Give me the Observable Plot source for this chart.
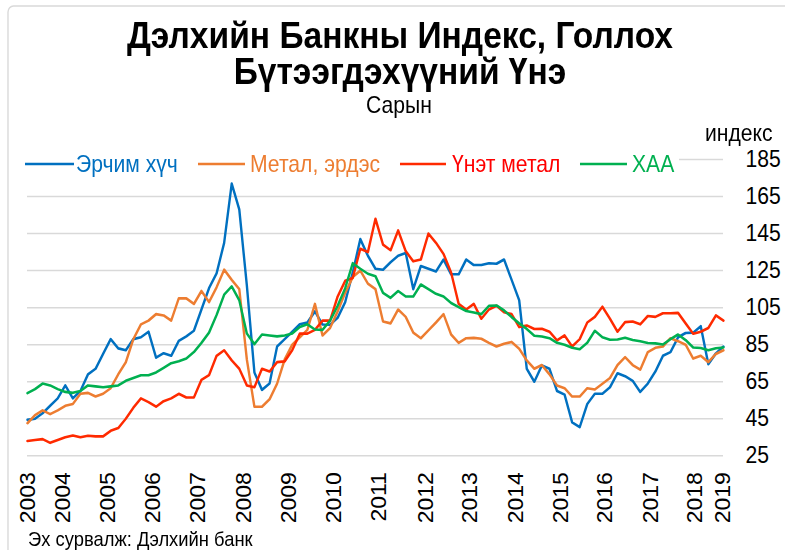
<!DOCTYPE html>
<html><head><meta charset="utf-8">
<script src="https://cdn.jsdelivr.net/npm/d3@7"></script>
<script src="https://cdn.jsdelivr.net/npm/@observablehq/plot@0.6"></script>
<style>
html,body{margin:0;padding:0;background:#fff;overflow:hidden;width:785px;height:550px}
#wrap{position:absolute;left:0;top:0;width:853.26px;height:550px;transform:scaleX(0.92);transform-origin:0 0}
#wrap svg{max-width:none !important;width:853.26px;height:550px;display:block}
</style></head><body><div id="wrap"></div>
<script>
// Bi-monthly readings, 2003 -> 2019
const energy = [44.4,45,48,52,56,63,56,60,69,72,80,88,83,82,88,89,92,78,80.4,79,87,89.5,92.5,104,115.5,123.5,140,172,158,117,70,60.6,64,84,88,92,96,97,103,95.9,95.8,99.5,108,124,142,133,126,125.5,129.5,133,134.5,115,127.5,126,124.5,131,123,123,131,128,128,129,128.7,131,120,109,72,65,73.8,72,60,58,43,40.5,53,58.5,58.5,62,69.6,68,65.5,59.5,64,70.5,79,81,89,91.3,91.5,95,74.5,80.3,84];
const metals = [42.6,47,49.5,47.5,49.5,52,53,58.5,59,57,58.5,61.5,69,75.5,88,96,98,101.5,100.8,98,110,110,107,114,108,116,125.5,120,115,77,51.5,51.5,55.5,64,77,85,89,93,107,90,94,103,113,121.5,125,118,115,97.5,96.5,104,100,91.5,88.5,92.7,97,101.5,90.5,86,88.5,88.7,88.2,86,84,85.5,86.5,82.8,76.5,72,74,69,63,61.5,57,57,61.5,60.8,63.9,67,74,78.3,74,71.5,81,83.3,84,88.5,86.9,85,77.5,79,75.6,80,82];
const precious = [33,33.5,34,32,33.5,35,36,35,35.8,35.5,35.5,38.5,40,45,51,56,54,51.5,54.5,56,58.5,56.5,56.5,66,68.5,79,82,76.5,72,63,62,72,70.5,75.6,76,82,91,91,93,98,98,111,119.5,121,136.8,135,153,139,136,146.7,135.5,130,131,145,140,134,124,107,104,107,99,104,106,102.5,101.5,94.5,95.4,93.5,93.6,92,87.3,90,84,88,97,100,105.5,99,92,97.2,97.5,96,100.5,100,102,102,102.2,96.5,90.9,92,94,100.8,98];
const agri = [58.8,61,64,63,61,59.5,59,60,63,62.5,62,62.5,63,65.5,67,68.5,68.5,70,72.5,75,76,77.5,81,86,91.5,101,112,116.5,109,91,85.3,90.5,90,89.5,90,91,94.5,96,93.2,93,98,106,115.5,129,126,123.3,122,113,110.3,114,111,111,117.5,115,112.5,111,107.5,105.3,103.2,102.4,101.5,106,106.2,103.5,99.9,96.5,93.5,89.8,89.4,88.5,86,85,83.3,82.5,86,92.5,89,87.7,87.8,88.7,87.5,86.9,85.9,85.7,85.1,88,90.5,87.5,83.5,83.2,82,83.1,83.5];

const seriesNames = ["Эрчим хүч","Метал, эрдэс","Үнэт метал","ХАА"];
const lineColors = ["#0070C0","#ED7D31","#FF2A00","#00B050"];
const textColors = ["#0070C0","#ED7D31","#FF0000","#00B050"];
const yTicks = [25,45,65,85,105,125,145,165,185];
const yearLabels = ["2003","2004","2005","2006","2007","2008","2009","2010","2011","2012","2013","2014","2015","2016","2017","2018","2019"];
const yearPos = [0,4.6,10.6,16.55,22.5,28.5,34.4,40.35,46.4,52.6,58.45,64.5,70.45,76.3,82.25,88.15,91.85];
const titleLines = ["Дэлхийн Банкны Индекс, Голлох","Бүтээгдэхүүний Үнэ"];
const subtitle = "Сарын";
const yUnit = "индекс";
const source = "Эх сурвалж: Дэлхийн банк";

const S = 0.92, W = 785 / S, H = 550;
const FONT = "'Liberation Sans', Arial, sans-serif";
const series = [energy, metals, precious, agri];
const rows = series.flatMap((vals, s) => vals.map((v, i) => ({i, v, s: seriesNames[s]})));

const chart = Plot.plot({
  width: W, height: H,
  marginTop: 159, marginBottom: 94.7, marginLeft: 27 / S, marginRight: W - 723 / S,
  style: {fontFamily: FONT, background: "#fff", overflow: "visible", maxWidth: "none"},
  x: {domain: [0, energy.length - 1], axis: null},
  y: {domain: [25, 185], axis: null},
  color: {domain: seriesNames, range: lineColors},
  marks: [
    Plot.gridY(yTicks, {stroke: "#d9d9d9", strokeOpacity: 1, strokeWidth: 1.5}),
    Plot.axisY(yTicks, {anchor: "right", tickSize: 0, tickPadding: 24, fontSize: 23, color: "#000", label: null}),
    Plot.line(rows, {x: "i", y: "v", z: "s", stroke: "s", strokeWidth: 2.6}),
    Plot.text(yearLabels, {x: (d, i) => yearPos[i], frameAnchor: "bottom", dx: 8.5, dy: 16.4, rotate: -90, textAnchor: "end", fontSize: 23, fill: "#000"})
  ]
});

const svg = d3.select(chart);
svg.insert("rect", ":first-child").attr("x", 8 / S).attr("y", 6).attr("width", W + 60).attr("height", H + 60)
  .attr("rx", 6).attr("fill", "none").attr("stroke", "#d9d9d9").attr("stroke-width", 1.5);

const t = svg.append("g").attr("font-family", FONT).attr("fill", "#000").attr("text-anchor", "start");
t.append("text").attr("x", 400 / S).attr("y", 48.5).attr("text-anchor", "middle").attr("font-weight", "bold").attr("font-size", 36.5).text(titleLines[0]);
t.append("text").attr("x", 400 / S).attr("y", 84).attr("text-anchor", "middle").attr("font-weight", "bold").attr("font-size", 36.5).text(titleLines[1]);
t.append("text").attr("x", 399 / S).attr("y", 113).attr("text-anchor", "middle").attr("font-size", 23).text(subtitle);
t.append("text").attr("x", 705 / S).attr("y", 141).attr("text-anchor", "start").attr("font-size", 23).text(yUnit);
t.append("text").attr("x", 28 / S).attr("y", 546).attr("text-anchor", "start").attr("font-size", 20).text(source);

// legend
const lg = svg.append("g").attr("font-family", FONT).attr("text-anchor", "start");
lg.append("rect").attr("x", 24 / S).attr("y", 151).attr("width", (679 - 24) / S).attr("height", 27).attr("fill", "#fff");
const legX = [[25, 74, 76], [198, 245, 250], [400, 446, 452], [580, 627, 632]];
seriesNames.forEach((n, k) => {
  const [a, b, c] = legX[k];
  lg.append("line").attr("x1", a / S).attr("x2", b / S).attr("y1", 164).attr("y2", 164)
    .attr("stroke", lineColors[k]).attr("stroke-width", 2.6);
  lg.append("text").attr("x", c / S).attr("y", 172).attr("text-anchor", "start").attr("font-size", 23).attr("fill", textColors[k]).text(n);
});

document.getElementById("wrap").appendChild(chart);
</script></body></html>
